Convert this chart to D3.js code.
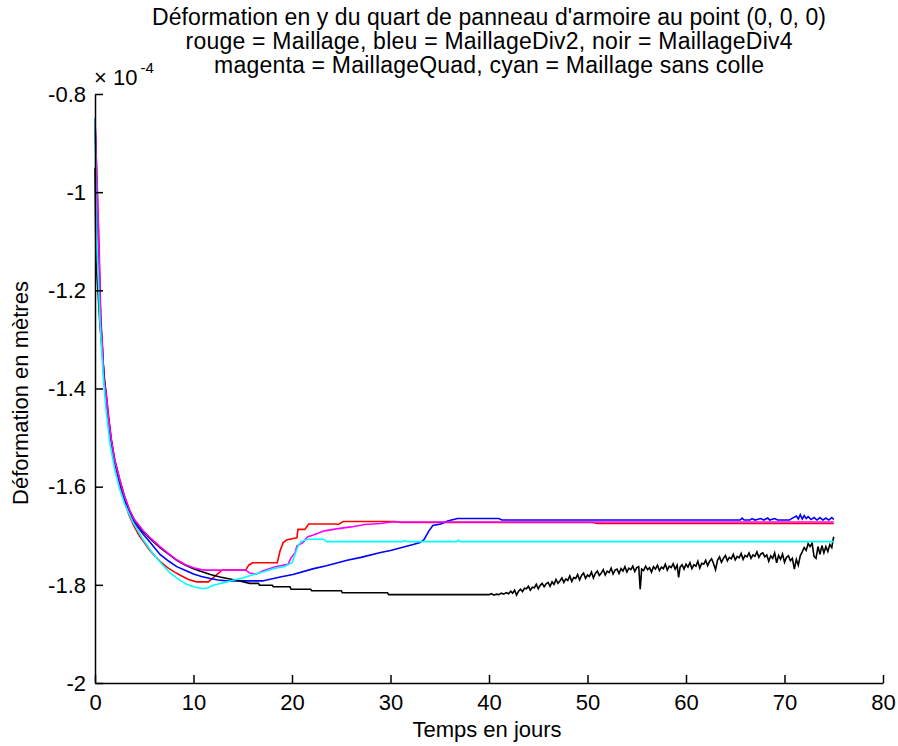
<!DOCTYPE html>
<html>
<head>
<meta charset="utf-8">
<script src="https://cdn.jsdelivr.net/npm/d3@7"></script>
<style>
  body { margin: 0; background: #fff; }
  text { font-family: "Liberation Sans", Arial, Helvetica, sans-serif; fill: #000; }
</style>
</head>
<body>
<svg id="chart" width="898" height="746"></svg>
<script>
// valeurs en unités de 1e-4 m, temps en jours
var xTicks = [0, 10, 20, 30, 40, 50, 60, 70, 80];
var yTicks = [-2, -1.8, -1.6, -1.4, -1.2, -1, -0.8];

var titleLines = [
  "Déformation en y du quart de panneau d'armoire au point (0, 0, 0)",
  "rouge = Maillage, bleu = MaillageDiv2, noir = MaillageDiv4",
  "magenta = MaillageQuad, cyan = Maillage sans colle"
];

var rouge = [[0,-0.86],[0.17,-0.953],[0.41,-1.102],[0.58,-1.256],[0.74,-1.306],[0.91,-1.380],[1.12,-1.405],
  [1.4,-1.46],[1.7,-1.51],[2.0,-1.55],[2.5,-1.595],[3.0,-1.632],[3.5,-1.66],[4.0,-1.682],[4.5,-1.70],
  [5.0,-1.714],[5.5,-1.728],[6.0,-1.740],[6.6,-1.752],[7.3,-1.764],[8.0,-1.773],[8.8,-1.782],[9.5,-1.789],
  [10.3,-1.794],[11.5,-1.794],[11.8,-1.789],[12.2,-1.782],[12.6,-1.775],[12.9,-1.770],[15.3,-1.770],
  [15.6,-1.760],[16.0,-1.755],[18.5,-1.755],[18.8,-1.730],[19.1,-1.714],[19.5,-1.708],[20.5,-1.704],
  [20.6,-1.687],[21.3,-1.687],[21.7,-1.676],[24.4,-1.676],[24.7,-1.677],[25.2,-1.671],[30.5,-1.671],
  [31,-1.673],[50.5,-1.673],[51,-1.675],[75,-1.675]];

var bleu = [[0,-0.85],[0.17,-1.0],[0.4,-1.14],[0.58,-1.26],[0.75,-1.32],[0.92,-1.385],[1.12,-1.42],
  [1.4,-1.47],[1.7,-1.515],[2.0,-1.55],[2.5,-1.59],[3.0,-1.625],[3.5,-1.652],[4.0,-1.673],[4.9,-1.697],
  [5.7,-1.716],[6.6,-1.738],[7.5,-1.752],[8.3,-1.763],[9.2,-1.771],[10.0,-1.778],[10.8,-1.783],
  [11.7,-1.787],[12.5,-1.790],[13.4,-1.792],[17.0,-1.792],[18.8,-1.784],[20.1,-1.779],[22.2,-1.767],
  [23.5,-1.761],[25.6,-1.750],[27.0,-1.744],[29.0,-1.734],[30.0,-1.730],[32.3,-1.718],[33.0,-1.714],
  [33.4,-1.708],[33.9,-1.690],[34.3,-1.679],[35.1,-1.676],[35.8,-1.670],[36.8,-1.665],[41.0,-1.665],
  [41.3,-1.668],[65.5,-1.668],[65.7,-1.664],[65.9,-1.668],[66.5,-1.668],[66.7,-1.665],[67.0,-1.668],
  [67.6,-1.665],[67.9,-1.668],[68.3,-1.664],[68.5,-1.668],[69.0,-1.665],[69.3,-1.668],[70.5,-1.668],
  [70.8,-1.664],[71.2,-1.660],[71.4,-1.666],[71.6,-1.657],[71.8,-1.666],[72.0,-1.659],[72.2,-1.665],
  [72.4,-1.661],[72.7,-1.667],[73.0,-1.663],[73.3,-1.668],[73.6,-1.663],[73.9,-1.668],[74.2,-1.664],
  [74.5,-1.668],[74.8,-1.663],[75.0,-1.667]];

var noir = [[0,-0.95],[0.1,-1.14],[0.3,-1.2],[0.5,-1.27],[0.75,-1.33],[1.0,-1.39],[1.3,-1.45],[1.6,-1.50],
  [2.0,-1.545],[2.5,-1.585],[3.0,-1.620],[3.5,-1.648],[4.0,-1.668],[4.9,-1.692],[5.7,-1.708],[6.6,-1.724],
  [7.5,-1.738],[8.3,-1.750],[9.2,-1.760],[10.0,-1.767],[10.8,-1.773],[11.7,-1.779],[12.7,-1.784],
  [13.7,-1.788],[14.7,-1.792],[15.7,-1.797],[16.6,-1.797],[16.7,-1.801],[18.0,-1.801],[18.1,-1.804],
  [19.8,-1.804],[19.9,-1.809],[21.9,-1.809],[22.0,-1.812],[25.0,-1.812],[25.1,-1.816],[29.7,-1.816],
  [29.8,-1.820],[40.0,-1.820],
  [40.25,-1.818],[40.5,-1.821],[40.75,-1.819],[41.0,-1.820],[41.25,-1.817],[41.5,-1.819],[41.75,-1.816],
  [42.0,-1.818],[42.2,-1.813],[42.4,-1.817],[42.6,-1.811],[42.8,-1.821],[43.0,-1.813],[43.2,-1.809],
  [43.4,-1.814],[43.6,-1.807],[43.8,-1.808],[44.0,-1.803],[44.2,-1.811],[44.4,-1.805],[44.6,-1.806],
  [44.8,-1.799],[45.0,-1.808],[45.2,-1.801],[45.4,-1.797],[45.6,-1.804],[45.8,-1.798],[46.0,-1.795],
  [46.2,-1.803],[46.4,-1.794],[46.6,-1.799],[46.8,-1.789],[47.0,-1.797],[47.2,-1.792],[47.4,-1.786],
  [47.6,-1.795],[47.8,-1.788],[48.0,-1.791],[48.2,-1.782],[48.4,-1.793],[48.6,-1.785],[48.8,-1.787],
  [49.0,-1.779],[49.2,-1.790],[49.4,-1.781],[49.6,-1.776],[49.8,-1.787],[50.0,-1.780],[50.2,-1.783],
  [50.4,-1.774],[50.6,-1.786],[50.8,-1.777],[51.0,-1.772],[51.2,-1.781],[51.4,-1.776],[51.6,-1.769],
  [51.8,-1.780],[52.0,-1.772],[52.2,-1.775],[52.4,-1.766],[52.6,-1.778],[52.8,-1.770],[53.0,-1.768],
  [53.2,-1.777],[53.4,-1.767],[53.6,-1.772],[53.8,-1.763],[54.0,-1.774],[54.2,-1.766],[54.4,-1.769],
  [54.6,-1.762],[54.8,-1.773],[55.0,-1.765],[55.2,-1.763],[55.35,-1.809],[55.5,-1.768],[55.7,-1.771],
  [55.9,-1.762],[56.1,-1.769],[56.3,-1.765],[56.5,-1.774],[56.7,-1.763],[56.9,-1.768],[57.1,-1.760],
  [57.3,-1.771],[57.5,-1.764],[57.7,-1.767],[57.9,-1.758],[58.1,-1.770],[58.3,-1.762],[58.5,-1.765],
  [58.7,-1.757],[58.9,-1.768],[59.1,-1.760],[59.25,-1.785],[59.4,-1.764],[59.6,-1.759],[59.8,-1.768],
  [60.0,-1.758],[60.2,-1.764],[60.4,-1.755],[60.6,-1.767],[60.8,-1.759],[61.0,-1.762],[61.2,-1.752],
  [61.4,-1.766],[61.6,-1.756],[61.8,-1.758],[62.0,-1.750],[62.2,-1.761],[62.4,-1.752],[62.6,-1.747],
  [62.8,-1.757],[63.0,-1.769],[63.2,-1.750],[63.4,-1.743],[63.6,-1.754],[63.8,-1.746],[64.0,-1.740],
  [64.2,-1.751],[64.4,-1.744],[64.6,-1.747],[64.8,-1.738],[65.0,-1.749],[65.2,-1.742],[65.4,-1.745],
  [65.6,-1.736],[65.8,-1.748],[66.0,-1.740],[66.2,-1.743],[66.4,-1.735],[66.6,-1.746],[66.8,-1.739],
  [67.0,-1.742],[67.2,-1.733],[67.4,-1.744],[67.6,-1.737],[67.8,-1.735],[68.0,-1.743],[68.2,-1.739],
  [68.4,-1.752],[68.6,-1.741],[68.8,-1.746],[69.0,-1.735],[69.2,-1.755],[69.4,-1.740],[69.6,-1.748],
  [69.8,-1.737],[70.0,-1.754],[70.2,-1.744],[70.4,-1.741],[70.6,-1.751],[70.8,-1.746],[71.0,-1.768],
  [71.2,-1.748],[71.4,-1.760],[71.6,-1.741],[71.8,-1.733],[72.0,-1.724],[72.2,-1.730],[72.4,-1.716],
  [72.6,-1.722],[72.8,-1.715],[73.0,-1.742],[73.2,-1.746],[73.4,-1.722],[73.6,-1.738],[73.8,-1.720],
  [74.0,-1.735],[74.2,-1.722],[74.4,-1.732],[74.6,-1.718],[74.8,-1.724],[74.9,-1.712],[75.0,-1.702]];

var magenta = [[0,-0.85],[0.17,-0.955],[0.4,-1.12],[0.58,-1.27],[0.75,-1.315],[0.92,-1.385],[1.12,-1.41],
  [1.4,-1.465],[1.7,-1.51],[2.0,-1.545],[2.5,-1.585],[3.0,-1.62],[3.5,-1.647],[4.0,-1.667],[4.9,-1.690],
  [5.7,-1.706],[6.6,-1.722],[7.5,-1.737],[8.3,-1.749],[9.2,-1.759],[10.0,-1.765],[10.8,-1.769],
  [11.2,-1.770],[15.3,-1.770],[15.7,-1.776],[16.4,-1.778],[17.0,-1.772],[18.3,-1.763],[19.6,-1.758],
  [19.9,-1.745],[20.3,-1.735],[20.5,-1.721],[21.1,-1.714],[21.6,-1.702],[22.1,-1.699],[23.3,-1.690],
  [24.5,-1.686],[26.0,-1.682],[27.4,-1.677],[29.0,-1.675],[30.1,-1.672],[75,-1.672]];

var cyan = [[0,-0.85],[0.17,-1.097],[0.51,-1.266],[0.84,-1.376],[1.12,-1.443],[1.5,-1.51],[2.0,-1.565],
  [2.5,-1.605],[3.0,-1.635],[3.8,-1.670],[4.8,-1.705],[5.9,-1.737],[6.8,-1.758],[7.6,-1.775],[8.5,-1.789],
  [9.3,-1.799],[10.2,-1.805],[11.0,-1.808],[11.5,-1.806],[12.0,-1.801],[13.0,-1.796],[14.1,-1.790],
  [15.0,-1.786],[16.1,-1.779],[17.2,-1.773],[18.3,-1.766],[19.2,-1.763],[20.0,-1.755],[20.3,-1.738],
  [20.6,-1.722],[20.9,-1.712],[21.6,-1.707],[23.2,-1.707],[23.5,-1.712],[31.2,-1.712],[31.4,-1.710],
  [31.7,-1.712],[36.7,-1.712],[36.9,-1.709],[37.1,-1.712],[75,-1.712]];

// ordre de tracé comme dans MATLAB
var series = [
  {data: rouge, color: "#ff0000"},
  {data: bleu, color: "#0000ff"},
  {data: noir, color: "#000000"},
  {data: magenta, color: "#ff00ff"},
  {data: cyan, color: "#00ffff"}
];

var svg = d3.select("#chart");
svg.append("rect").attr("width", 898).attr("height", 746).attr("fill", "#fff");

var x = d3.scaleLinear().domain([0, 80]).range([95, 883]);
var y = d3.scaleLinear().domain([-2, -0.8]).range([683, 94]);

var line = d3.line()
  .x(function(d){ return x(d[0]); })
  .y(function(d){ return y(d[1]); });

svg.append("g").selectAll("path")
  .data(series)
  .enter()
  .append("path")
  .attr("d", function(d){ return line(d.data); })
  .attr("fill", "none")
  .attr("stroke", function(d){ return d.color; })
  .attr("stroke-width", 1.6);

// axes, graduations vers l'intérieur
var gx = svg.append("g")
  .attr("transform", "translate(0,683)")
  .call(d3.axisBottom(x).tickValues(xTicks).tickSizeInner(-8).tickSizeOuter(0)
    .tickFormat(function(d){ return String(d); }));
gx.selectAll("text").attr("y", 27).attr("dy", null).style("font-size", "22px");

var gy = svg.append("g")
  .attr("transform", "translate(95,0)")
  .call(d3.axisLeft(y).tickValues(yTicks).tickSizeInner(-8).tickSizeOuter(0).tickPadding(9)
    .tickFormat(function(d){ return String(d); }));
gy.selectAll("text").attr("dy", "0.33em").style("font-size", "22px");

svg.selectAll(".domain, .tick line").attr("stroke", "#000").attr("stroke-width", 1.5);

// multiplicateur
var mult = svg.append("text").attr("x", 94).attr("y", 85).style("font-size", "22px");
mult.append("tspan").text("× 10");
mult.append("tspan").attr("dx", 3).attr("dy", -12).style("font-size", "15px").text("-4");

var titleWidths = [674, 607, 550];
svg.append("text")
  .attr("text-anchor", "middle")
  .style("font-size", "23px")
  .selectAll("tspan")
  .data(titleLines)
  .enter()
  .append("tspan")
  .attr("x", 489)
  .attr("y", function(d, i){ return 25 + i * 24; })
  .attr("textLength", function(d, i){ return titleWidths[i]; })
  .attr("lengthAdjust", "spacing")
  .text(function(d){ return d; });

svg.append("text")
  .attr("x", 487).attr("y", 737)
  .attr("text-anchor", "middle")
  .style("font-size", "22px")
  .text("Temps en jours");

svg.append("text")
  .attr("transform", "translate(28,393) rotate(-90)")
  .attr("text-anchor", "middle")
  .style("font-size", "22px")
  .text("Déformation en mètres");
</script>
</body>
</html>
